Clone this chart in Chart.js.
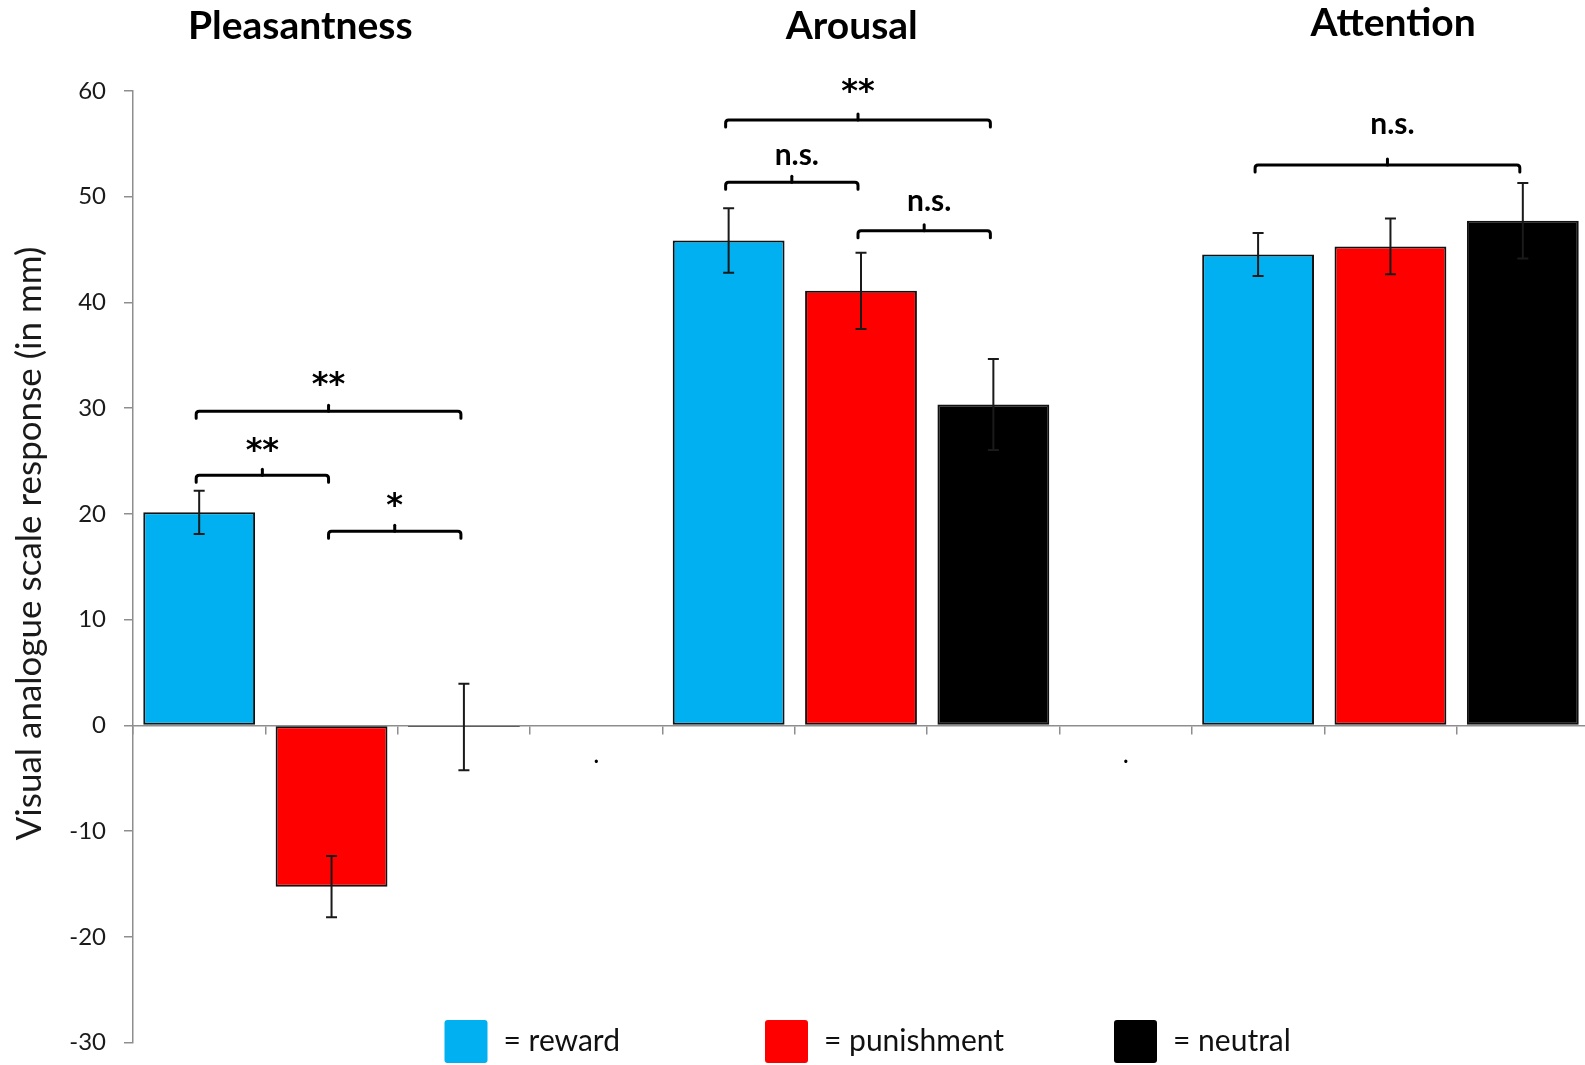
<!DOCTYPE html>
<html>
<head>
<meta charset="utf-8">
<title>Visual analogue scale ratings</title>
<script src="https://cdn.jsdelivr.net/npm/chart.js@4.4.1/dist/chart.umd.min.js"></script>
<style>
  html, body { margin: 0; padding: 0; background: #fff; overflow: hidden; }
  canvas { display: block; }
</style>
</head>
<body>
<canvas id="chart" width="1600" height="1075"></canvas>
<script>
// Rating dimensions, one block of three bars each
const groups = ['Pleasantness', 'Arousal', 'Attention'];
// Axis slots: three bars per block, a spacer slot between blocks
const categories = ['', '', '', '.', '', '', '', '.', '', '', ''];

// Mean ratings (mm) and standard errors per condition
const conditions = ['reward', 'punishment', 'neutral'];
const reward       = [20.15, 45.86, 44.53];
const rewardSE     = [2.05, 3.05, 2.03];
const punishment   = [-15.25, 41.10, 45.30];
const punishmentSE = [2.90, 3.60, 2.63];
const neutral      = [-0.15, 30.35, 47.72];
const neutralSE    = [4.10, 4.30, 3.57];

// Y axis range
const yMin = -30, yMax = 60, yStep = 10;

// Significance brackets: slot indexes joined, bracket height and label height in mm
const bracketFrom   = [0, 0, 1, 4, 4, 5, 8];
const bracketTo     = [1, 2, 2, 5, 6, 6, 10];
const bracketLevel  = [23.66, 29.71, 18.36, 51.36, 57.25, 46.78, 53.0];
const labelLevel    = [26.59, 32.81, 21.32, 53.78, 60.49, 49.37, 56.73];
const bracketLabels = ['**', '**', '*', 'n.s.', '**', 'n.s.', 'n.s.'];

const colors = ['#00b0f0', '#ff0000', '#000000'];
const seriesMeans = [reward, punishment, neutral];
const seriesSE = [rewardSE, punishmentSE, neutralSE];

// Spread each condition over the 11 axis slots (block g, condition c -> slot 4g + c)
const datasets = conditions.map((name, c) => {
  const data = new Array(categories.length).fill(null);
  const err = new Array(categories.length).fill(null);
  seriesMeans[c].forEach((v, g) => { data[g * 4 + c] = v; err[g * 4 + c] = seriesSE[c][g]; });
  return {
    label: name,
    data: data,
    errors: err,
    backgroundColor: colors[c],
    borderColor: '#111111',
    borderWidth: 2,
    borderSkipped: false,
    grouped: false,
    barPercentage: 0.845,
    categoryPercentage: 1.0
  };
});

const FONT = 'Lato, "Open Sans", sans-serif';
const STAR_FONT = '"DejaVu Sans", sans-serif';
const groupTitleSlot = [0.764, 4.93, 9.02];
const groupTitleBaseline = [39, 39, 36];

const decorations = {
  id: 'decorations',
  afterDatasetsDraw(chart) {
    const { ctx } = chart;
    const x = chart.scales.x, y = chart.scales.y;
    ctx.save();

    // error bars
    chart.data.datasets.forEach((ds, di) => {
      const meta = chart.getDatasetMeta(di);
      meta.data.forEach((bar, i) => {
        const v = ds.data[i];
        if (v === null || v === undefined) return;
        const e = ds.errors[i];
        const px = bar.x;
        const yt = y.getPixelForValue(v + e);
        const yb = y.getPixelForValue(v - e);
        ctx.strokeStyle = '#1a1a1a';
        ctx.lineWidth = 2;
        ctx.lineCap = 'butt';
        ctx.beginPath();
        ctx.moveTo(px, yt); ctx.lineTo(px, yb);
        ctx.moveTo(px - 5.5, yt); ctx.lineTo(px + 5.5, yt);
        ctx.moveTo(px - 5.5, yb); ctx.lineTo(px + 5.5, yb);
        ctx.stroke();
      });
    });

    // significance brackets
    bracketLevel.forEach((lvl, k) => {
      const x1 = x.getPixelForValue(bracketFrom[k]) - 3;
      const x2 = x.getPixelForValue(bracketTo[k]) - 3;
      const yy = y.getPixelForValue(lvl);
      const hook = 7, r = 3;
      ctx.strokeStyle = '#000';
      ctx.lineWidth = 3;
      ctx.lineCap = 'round';
      ctx.lineJoin = 'round';
      ctx.beginPath();
      ctx.moveTo(x1, yy + hook);
      ctx.lineTo(x1, yy + r);
      ctx.quadraticCurveTo(x1, yy, x1 + r, yy);
      ctx.lineTo(x2 - r, yy);
      ctx.quadraticCurveTo(x2, yy, x2, yy + r);
      ctx.lineTo(x2, yy + hook);
      ctx.stroke();
      const xc = (x1 + x2) / 2;
      ctx.beginPath();
      ctx.moveTo(xc, yy);
      ctx.lineTo(xc, yy - 6);
      ctx.stroke();

      // label, its ink centred on the label height
      const lab = bracketLabels[k];
      const isText = lab.indexOf('n') === 0;
      ctx.fillStyle = '#000';
      ctx.textAlign = 'center';
      ctx.textBaseline = 'alphabetic';
      ctx.font = isText ? 'bold 30px ' + FONT : 'bold 32px ' + STAR_FONT;
      const m = ctx.measureText(lab);
      const cy = y.getPixelForValue(labelLevel[k]);
      const base = cy + (m.actualBoundingBoxAscent - m.actualBoundingBoxDescent) / 2;
      ctx.fillText(lab, xc + (isText ? 5 : 0), base);
    });

    // block titles
    ctx.fillStyle = '#000';
    ctx.font = 'bold 39px ' + FONT;
    ctx.textAlign = 'center';
    ctx.textBaseline = 'alphabetic';
    groups.forEach((g, i) => {
      ctx.fillText(g, x.getPixelForValue(groupTitleSlot[i]), groupTitleBaseline[i]);
    });

    // y axis title
    ctx.save();
    ctx.translate(30, y.getPixelForValue(17.2));
    ctx.rotate(-Math.PI / 2);
    ctx.font = '35px ' + FONT;
    ctx.fillStyle = '#1a1a1a';
    ctx.textAlign = 'center';
    ctx.textBaseline = 'middle';
    ctx.fillText('Visual analogue scale response (in mm)', 0, 0);
    ctx.restore();

    // legend
    const legendX = [444.5, 765, 1114];
    const boxTop = 1020, box = 43;
    chart.data.datasets.forEach((ds, i) => {
      ctx.fillStyle = ds.backgroundColor;
      ctx.beginPath();
      ctx.roundRect(legendX[i], boxTop, box, box, 3);
      ctx.fill();
      ctx.fillStyle = '#111';
      ctx.font = '30px ' + FONT;
      ctx.textAlign = 'left';
      ctx.textBaseline = 'middle';
      ctx.fillText('= ' + ds.label, legendX[i] + 59, boxTop + box / 2);
    });

    ctx.restore();
  }
};

new Chart(document.getElementById('chart'), {
  type: 'bar',
  data: { labels: categories, datasets: datasets },
  options: {
    responsive: false,
    animation: false,
    layout: { padding: { left: 0, right: 11, top: 91, bottom: 13 } },
    plugins: {
      legend: { display: false },
      tooltip: { enabled: false },
      title: { display: false }
    },
    scales: {
      x: {
        position: { y: 0 },
        z: 1,
        grid: {
          display: true,
          offset: true,
          drawOnChartArea: false,
          drawTicks: true,
          tickLength: 8,
          color: '#8e8e8e',
          lineWidth: 1.5
        },
        border: { display: true, color: '#8e8e8e', width: 1.5 },
        ticks: {
          autoSkip: false,
          maxRotation: 0,
          color: '#000',
          padding: 6,
          font: { family: FONT, size: 26 }
        }
      },
      y: {
        min: yMin,
        max: yMax,
        afterFit(scale) { scale.width = 133; },
        ticks: {
          stepSize: yStep,
          color: '#1a1a1a',
          padding: 18,
          font: { family: FONT, size: 24 }
        },
        grid: {
          drawOnChartArea: false,
          drawTicks: true,
          tickLength: 9,
          color: '#8e8e8e',
          lineWidth: 1.5
        },
        border: { display: true, color: '#8e8e8e', width: 1.5 }
      }
    }
  },
  plugins: [decorations]
});
</script>
</body>
</html>
